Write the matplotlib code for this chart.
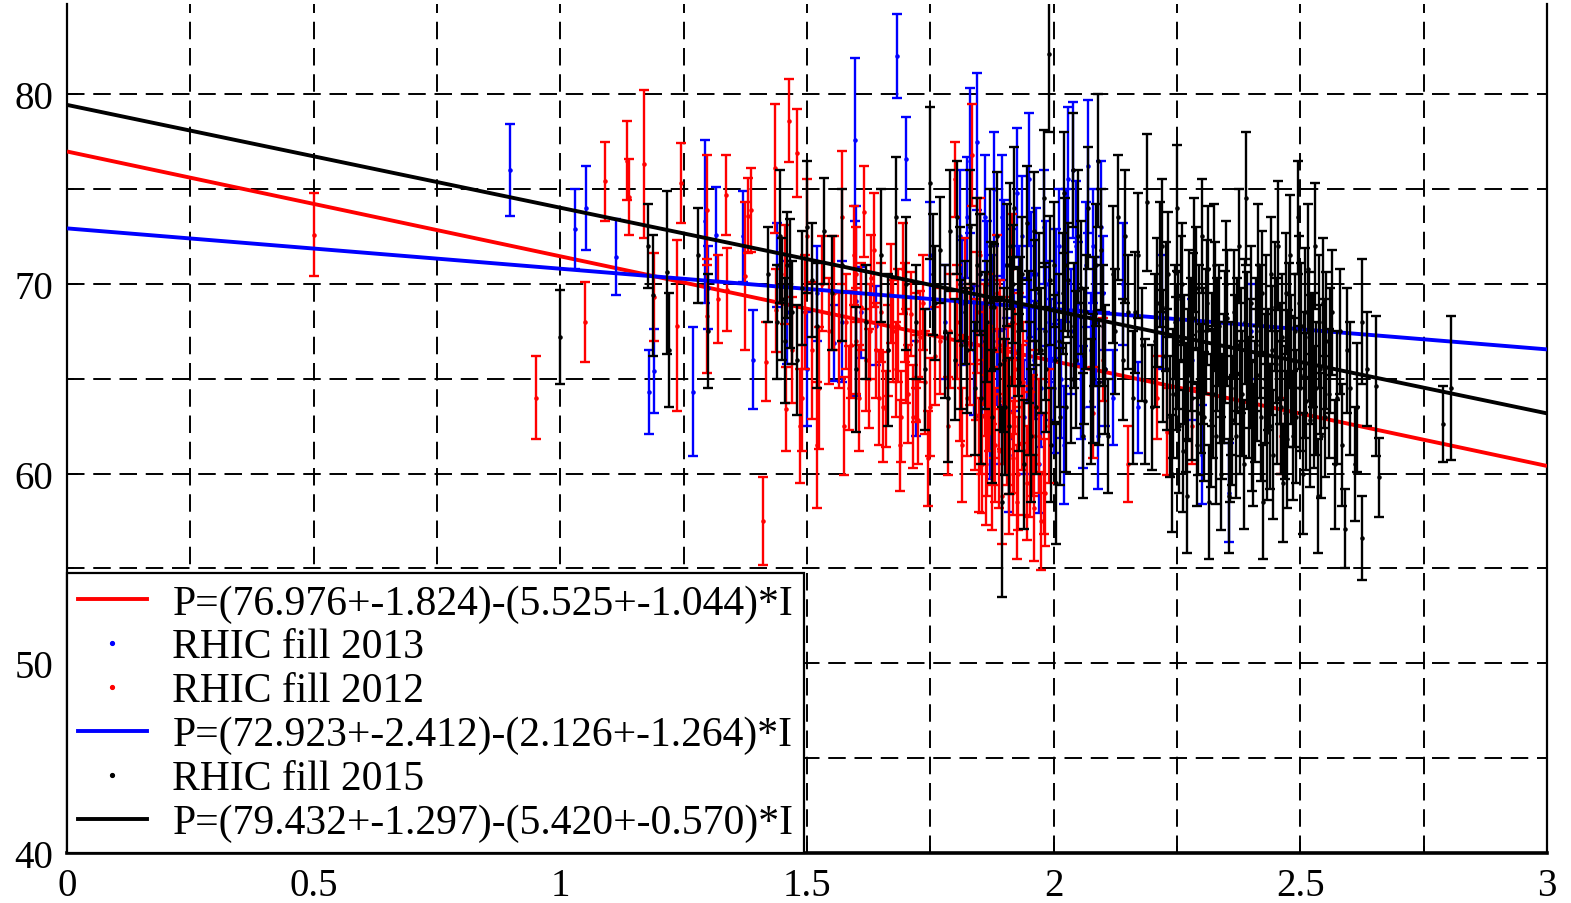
import matplotlib
matplotlib.use("Agg")
import matplotlib.pyplot as plt
from matplotlib.lines import Line2D
from matplotlib.ticker import MultipleLocator

plt.rcParams['font.family'] = ['Liberation Serif', 'DejaVu Serif']

# ---- RHIC fill 2012 (red): beam intensity I, polarization P, uncertainty dP
I_2012 = [0.50, 0.95, 1.05, 1.09, 1.135, 1.14, 1.17, 1.19, 1.236, 1.245, 1.297, 1.298,
          1.32, 1.335, 1.337, 1.374, 1.38, 1.386, 1.411, 1.416, 1.435, 1.437, 1.457, 1.463,
          1.48, 1.485, 1.49, 1.50, 1.51, 1.52, 1.53, 1.555, 1.565, 1.57, 1.58, 1.585, 1.59,
          1.60, 1.61, 1.615, 1.62, 1.625, 1.63, 1.635, 1.645, 1.65, 1.66, 1.665, 1.67, 1.68,
          1.685, 1.69, 1.695, 1.70, 1.705, 1.71, 1.72, 1.725, 1.73, 1.74, 1.745, 1.76, 1.79,
          1.80, 1.81, 1.815, 1.82, 1.83, 1.835, 1.84, 1.845, 1.85, 1.855, 1.86, 1.865, 1.87,
          1.875, 1.88, 1.885, 1.89, 1.895, 1.90, 1.905, 1.91, 1.915, 1.92, 1.925, 1.93, 1.94,
          1.95, 1.96, 1.97, 1.98, 2.08, 2.10, 2.15, 2.21, 2.23, 2.28, 2.46,
          1.455, 1.47, 1.495, 1.525, 1.545, 1.575, 1.595, 1.605, 1.628, 1.655, 1.675, 1.688,
          1.698, 1.715, 1.735, 1.75, 1.77, 1.785, 1.805, 1.825, 1.848, 1.858, 1.868, 1.878,
          1.892, 1.908, 1.918, 1.935, 1.945, 1.958, 1.975, 1.99,
          1.842, 1.852, 1.862, 1.872, 1.882, 1.898, 1.912, 1.922, 1.928, 1.938, 1.952, 1.965,
          1.982, 1.72, 1.64, 1.60]
P_2012 = [72.6, 64.0, 68.0, 75.4, 76.5, 74.6, 76.3, 69.3, 67.8, 75.3, 73.9, 68.3,
          69.2, 74.7, 69.7, 70.4, 73.6, 73.9, 57.5, 65.9, 76.1, 68.6, 63.4, 78.6,
          76.9, 62.5, 64.0, 72.5, 66.5, 61.5, 70.0, 69.5, 67.0, 73.5, 68.0, 64.5, 66.8,
          70.5, 68.8, 73.8, 66.0, 65.0, 70.3, 71.8, 64.0, 68.5, 63.4, 66.5, 69.5, 65.5,
          67.8, 63.0, 70.8, 66.2, 64.2, 68.4, 65.0, 62.8, 67.2, 64.8, 60.8, 66.2, 67.5,
          75.5, 64.5, 61.5, 69.8, 66.8, 76.8, 63.0, 68.5, 71.5, 60.5, 65.5, 62.0, 67.5,
          59.8, 64.2, 69.5, 61.2, 58.8, 66.0, 63.0, 60.0, 70.8, 62.5, 58.5, 66.5, 61.2,
          64.0, 58.2, 62.0, 60.0, 63.2, 66.0, 60.5, 64.0, 62.2, 62.5, 62.0,
          70.5, 66.5, 68.5, 64.5, 67.5, 62.5, 71.5, 64.0, 67.5, 63.5, 67.5, 61.5,
          68.5, 63.0, 69.0, 63.5, 67.0, 62.5, 68.0, 64.0, 61.0, 66.8, 64.5, 62.5,
          66.8, 64.5, 60.8, 63.5, 59.5, 62.0, 57.5, 62.5,
          66.0, 63.0, 60.5, 65.5, 61.5, 63.8, 62.0, 65.5, 60.0, 64.8, 61.0, 63.5,
          59.0, 67.0, 66.5, 67.0]
E_2012 = [2.2, 2.2, 2.1, 2.1, 2.1, 2.0, 3.9, 2.3, 4.5, 2.1, 2.9, 3.0,
          2.3, 2.1, 2.2, 3.9, 2.0, 2.2, 2.3, 2.1, 3.4, 2.2, 2.2, 2.2,
          2.3, 3.0, 2.8, 3.0, 3.6, 3.3, 2.5, 3.0, 2.5, 3.5, 2.5, 2.2, 2.8,
          2.5, 2.3, 2.4, 2.7, 2.6, 2.3, 3.0, 2.5, 2.6, 2.0, 2.4, 2.6, 2.5,
          3.0, 2.4, 2.4, 2.5, 2.6, 2.2, 2.3, 2.3, 2.4, 2.7, 2.5, 2.6, 3.0,
          2.0, 2.8, 3.0, 2.6, 3.2, 2.7, 2.8, 3.2, 3.0, 2.6, 3.5, 3.2, 3.0,
          2.8, 3.4, 3.1, 3.0, 2.5, 3.3, 3.6, 3.2, 2.9, 3.5, 3.0, 3.0, 3.4,
          3.0, 2.8, 3.0, 3.2, 2.4, 2.2, 2.0, 2.2, 2.3, 2.0, 2.0,
          2.6, 2.8, 3.0, 3.2, 2.8, 2.6, 2.6, 2.8, 2.5, 2.9, 2.7, 2.4,
          2.6, 2.7, 2.5, 2.6, 2.8, 2.6, 3.0, 3.1, 3.0, 3.2, 3.3, 3.1,
          3.4, 3.2, 3.0, 3.3, 3.0, 3.2, 2.6, 3.0,
          3.2, 3.0, 3.2, 3.4, 3.0, 3.3, 3.1, 3.4, 3.0, 3.2, 3.3, 3.0,
          2.8, 2.5, 2.5, 2.8]

# ---- RHIC fill 2013 (blue)
I_2013 = [0.897, 1.03, 1.052, 1.112, 1.18, 1.19, 1.269, 1.293, 1.30, 1.315, 1.37, 1.39,
          1.44, 1.46, 1.50, 1.52, 1.555, 1.57, 1.597, 1.60, 1.61, 1.64, 1.682, 1.70, 1.72,
          1.75, 1.78, 1.81, 1.83, 1.845, 1.85, 1.855, 1.86, 1.87, 1.875, 1.88, 1.89, 1.90,
          1.91, 1.92, 1.925, 1.93, 1.94, 1.95, 1.955, 1.96, 1.97, 1.98, 1.99, 2.00, 2.01,
          2.02, 2.03, 2.04, 2.05, 2.06, 2.07, 2.075, 2.08, 2.09, 2.10, 2.12, 2.14, 2.17,
          2.22, 2.28, 2.30, 2.355, 2.40,
          1.815, 1.825, 1.838, 1.865, 1.885, 1.895, 1.905, 1.915, 1.935, 1.945, 1.965, 1.975,
          1.985, 1.995, 2.005, 2.015, 2.025, 2.035, 2.045, 2.055, 2.065, 2.085, 2.095, 2.105]
P_2013 = [76.0, 72.9, 74.0, 71.4, 64.3, 65.4, 64.3, 73.3, 69.8, 72.6, 72.5, 66.0,
          71.0, 68.5, 65.5, 69.5, 66.9, 68.0, 77.6, 69.1, 68.5, 67.8, 82.0, 76.6, 64.5,
          71.5, 68.0, 72.5, 76.5, 77.5, 70.5, 66.0, 73.5, 62.5, 68.5, 75.0, 64.0, 71.0,
          61.0, 66.5, 74.8, 69.0, 63.0, 75.5, 70.5, 66.0, 60.5, 73.0, 68.0, 64.5, 72.0,
          61.5, 75.5, 76.0, 69.0, 63.5, 76.2, 66.5, 72.0, 62.0, 69.5, 64.0, 70.0, 63.5,
          68.5, 66.0, 61.0, 59.0, 67.5,
          69.0, 73.5, 66.5, 70.0, 67.0, 73.5, 65.0, 69.5, 72.5, 67.0, 70.5, 64.5,
          70.0, 66.0, 69.5, 65.0, 71.5, 67.5, 72.0, 65.0, 71.0, 68.0, 73.0, 65.5]
E_2013 = [2.4, 2.1, 2.2, 2.0, 2.2, 2.2, 3.4, 4.3, 2.2, 2.5, 2.4, 2.6,
          2.2, 2.7, 3.0, 2.5, 2.0, 3.2, 4.3, 5.0, 2.4, 2.1, 2.2, 2.2, 2.5,
          2.8, 3.0, 3.5, 3.8, 3.6, 3.2, 3.0, 3.3, 2.8, 3.0, 3.0, 3.5, 3.4,
          3.0, 3.2, 3.4, 3.0, 3.0, 3.5, 3.3, 3.1, 2.6, 3.0, 3.2, 3.4, 3.0,
          3.1, 3.8, 3.6, 3.2, 3.2, 3.5, 3.0, 3.0, 2.8, 3.0, 2.5, 3.2, 2.4,
          3.0, 3.2, 2.6, 2.6, 2.5,
          3.3, 3.2, 3.4, 3.3, 3.4, 3.3, 3.2, 3.4, 3.2, 3.3, 3.5, 3.1,
          3.3, 3.2, 3.4, 3.1, 3.5, 3.3, 3.4, 3.2, 3.3, 3.4, 3.5, 3.0]

# ---- RHIC fill 2015 (black)
I_2015 = [1.00, 1.178, 1.188, 1.217, 1.22, 1.28, 1.30, 1.42, 1.44, 1.445, 1.45, 1.455,
          1.46, 1.465, 1.47, 1.48, 1.49, 1.50, 1.51, 1.52, 1.535, 1.55, 1.57, 1.60, 1.62,
          1.65, 1.665, 1.68, 1.70, 1.72, 1.74, 1.75, 1.76, 1.77, 1.78, 1.79, 1.80, 1.81,
          1.82, 1.83, 1.84, 1.85, 1.86, 1.87, 1.875, 1.88, 1.895, 1.90, 1.905, 1.91, 1.915,
          1.92, 1.93, 1.935, 1.94, 1.95, 1.96, 1.965, 1.97, 1.98, 1.985, 1.99, 1.995, 2.00,
          2.005, 2.01, 2.02, 2.025, 2.03, 2.04, 2.045, 2.05, 2.06, 2.065, 2.07, 2.08, 2.085,
          2.09, 2.10, 2.11, 2.12, 2.13, 2.14, 2.15, 2.16, 2.17, 2.18, 2.19, 2.20, 2.21,
          2.22, 2.23, 2.24, 2.245, 2.25, 2.255, 2.26, 2.265, 2.27, 2.275, 2.28, 2.285, 2.29,
          2.295, 2.30, 2.305, 2.31, 2.315, 2.32, 2.325, 2.33, 2.335, 2.34, 2.345, 2.35,
          2.355, 2.36, 2.365, 2.37, 2.375, 2.38, 2.385, 2.39, 2.395, 2.40, 2.405, 2.41,
          2.415, 2.42, 2.425, 2.43, 2.435, 2.44, 2.445, 2.45, 2.455, 2.46, 2.465, 2.47,
          2.475, 2.48, 2.485, 2.49, 2.495, 2.50, 2.505, 2.51, 2.515, 2.52, 2.525, 2.53,
          2.535, 2.54, 2.545, 2.55, 2.56, 2.57, 2.58, 2.59, 2.60, 2.61, 2.624, 2.624, 2.654,
          2.66, 2.79, 2.806,
          1.755, 1.785, 1.805, 1.825, 1.845, 1.865, 1.885, 1.902, 1.918, 1.928, 1.945, 1.955,
          1.975, 1.992, 2.012, 2.018, 2.035, 2.055, 2.075, 2.095, 2.105, 2.125, 2.145, 2.165,
          2.185, 2.205, 2.215, 2.228, 2.235, 2.248, 2.258, 2.268, 2.278, 2.288, 2.298, 2.308,
          2.318, 2.328, 2.338, 2.348, 2.358, 2.368, 2.378, 2.388, 2.398, 2.408, 2.418, 2.428,
          2.438, 2.448, 2.458, 2.468, 2.478, 2.488, 2.498, 2.508, 2.518, 2.528, 2.538, 2.548,
          2.565, 2.575, 2.585, 2.595, 2.615, 2.635,
          2.222, 2.232, 2.242, 2.252, 2.262, 2.272, 2.282, 2.292, 2.302, 2.312, 2.322, 2.332,
          2.342, 2.352, 2.362, 2.372, 2.382, 2.392, 2.402, 2.412, 2.422, 2.432, 2.442, 2.452,
          2.462, 2.472, 2.482, 2.492, 2.502, 2.512, 2.522, 2.532, 2.542, 2.552, 2.558,
          1.812, 1.832, 1.852, 1.872, 1.892, 1.912, 1.932, 1.952, 1.962, 1.982, 2.002, 2.022,
          2.042, 2.062, 2.082, 2.092]
P_2015 = [67.2, 72.0, 69.4, 70.6, 66.5, 71.5, 67.5, 70.5, 68.0, 72.5, 69.2, 67.0,
          71.0, 70.0, 68.5, 66.0, 69.8, 73.0, 70.2, 67.8, 72.8, 69.5, 71.0, 65.5, 68.0,
          71.5, 66.5, 73.5, 70.0, 68.0, 65.5, 75.3, 69.0, 71.8, 67.5, 72.8, 66.0, 70.0,
          68.5, 73.0, 64.5, 70.5, 67.0, 72.0, 63.0, 68.8, 58.5, 66.0, 71.0, 62.5, 68.0,
          74.0, 64.8, 70.5, 60.5, 67.2, 72.8, 63.5, 69.5, 74.5, 65.5, 82.1, 61.5, 71.0,
          59.5, 67.0, 74.8, 63.5, 70.2, 76.0, 66.0, 72.5, 62.0, 68.5, 74.0, 65.0, 71.0,
          76.5, 67.8, 62.0, 70.5, 73.5, 66.0, 68.5, 64.0, 71.5, 66.8, 74.3, 63.5, 69.0,
          72.0, 65.5, 60.0, 68.0, 74.0, 62.5, 70.0, 66.0, 58.8, 68.5, 64.0, 71.5, 61.5,
          67.5, 72.5, 63.0, 69.0, 58.5, 66.0, 71.0, 62.0, 67.8, 60.0, 65.0, 70.0,
          58.8, 64.5, 68.5, 62.0, 72.0, 66.5, 60.5, 74.5, 64.0, 69.0, 61.5, 66.8,
          71.0, 63.0, 58.5, 68.0, 65.5, 70.5, 61.0, 67.0, 72.0, 63.5, 59.5, 69.5,
          65.0, 71.5, 62.0, 67.5, 73.5, 64.5, 60.0, 68.5, 70.8, 62.8, 66.5, 72.0,
          58.8, 65.5, 69.0, 63.0, 66.5, 60.5, 67.5, 57.1, 64.5, 60.5, 68.0, 56.6, 64.6,
          59.8, 62.6, 64.5,
          70.5, 64.0, 73.5, 66.5, 71.0, 68.0, 72.5, 63.5, 70.0, 67.5, 73.2, 62.0,
          66.5, 70.2, 63.0, 69.5, 65.0, 69.8, 63.8, 71.8, 65.5, 67.5, 72.5, 68.5,
          63.8, 67.0, 71.0, 68.8, 63.0, 65.8, 69.2, 63.5, 66.8, 69.8, 64.5, 67.5,
          62.8, 68.8, 64.8, 67.2, 61.8, 66.0, 63.5, 68.0, 65.8, 63.8, 67.5, 65.0,
          62.5, 68.8, 65.8, 63.2, 67.8, 64.8, 69.0, 65.2, 67.2, 63.5, 68.0, 65.8,
          68.5, 64.0, 61.5, 66.5, 63.5, 65.5,
          66.2, 70.5, 64.2, 67.0, 61.2, 65.2, 68.2, 63.2, 66.2, 70.8, 64.2, 66.8,
          63.0, 68.2, 62.8, 66.8, 64.2, 67.0, 62.5, 65.2, 69.5, 62.2, 66.5, 64.0,
          67.2, 61.8, 66.0, 63.0, 67.8, 63.8, 66.0, 64.5, 62.0, 67.0, 64.2,
          66.8, 69.8, 64.0, 68.8, 65.8, 72.0, 68.0, 64.5, 69.0, 67.5, 66.0, 71.0,
          67.8, 66.2, 68.0, 64.8]
E_2015 = [2.5, 2.2, 3.2, 4.3, 3.0, 2.5, 3.0, 2.5, 3.0, 3.5, 3.2, 3.3,
          2.8, 3.4, 2.7, 2.9, 3.0, 3.5, 3.0, 3.3, 2.8, 3.0, 4.0, 3.3, 3.0,
          3.5, 4.0, 3.2, 3.5, 3.0, 3.2, 4.0, 3.0, 2.8, 3.5, 3.2, 3.2, 3.0,
          2.7, 3.0, 3.5, 3.2, 3.6, 3.0, 3.5, 3.3, 5.0, 3.8, 3.2, 3.6, 3.4,
          3.2, 3.6, 3.0, 3.4, 3.5, 3.1, 3.5, 3.2, 3.6, 3.3, 4.1, 3.0, 3.3,
          3.2, 3.5, 3.2, 3.4, 3.0, 3.0, 3.6, 3.5, 3.3, 3.0, 3.2, 3.4, 3.2,
          3.5, 3.2, 3.0, 3.6, 3.3, 3.2, 3.0, 3.5, 3.3, 3.0, 3.6, 3.3, 3.4,
          3.5, 3.2, 3.1, 3.0, 3.3, 3.5, 3.2, 3.4, 3.0, 3.3, 3.3, 3.0, 3.2,
          3.5, 3.0, 3.4, 3.3, 3.0, 3.5, 3.2, 3.6, 3.2, 3.0, 3.4, 3.3,
          3.0, 3.5, 3.3, 3.3, 3.0, 3.3, 3.4, 3.5, 3.2, 3.0, 3.2, 3.5,
          3.2, 3.4, 3.0, 3.5, 3.2, 3.0, 3.4, 3.3, 3.4, 3.5, 3.1, 3.2,
          3.6, 3.2, 3.4, 3.0, 3.0, 3.3, 3.2, 3.4, 3.4, 3.5, 3.0, 3.3,
          3.0, 3.4, 3.4, 3.2, 3.3, 3.4, 3.3, 2.1, 3.5, 3.0, 3.3, 2.2, 3.7,
          2.1, 2.0, 3.8,
          3.2, 3.4, 3.0, 3.3, 3.5, 3.2, 3.4, 3.6, 3.1, 3.4, 3.0, 3.5,
          3.3, 3.4, 3.6, 3.2, 3.4, 3.5, 3.3, 3.2, 3.4, 3.3, 3.5, 3.2,
          3.3, 3.5, 3.3, 3.4, 3.2, 3.5, 3.3, 3.4, 3.5, 3.2, 3.4, 3.3,
          3.5, 3.4, 3.2, 3.5, 3.3, 3.4, 3.5, 3.3, 3.4, 3.2, 3.5, 3.4,
          3.3, 3.4, 3.2, 3.5, 3.3, 3.4, 3.5, 3.3, 3.4, 3.2, 3.5, 3.4,
          3.3, 3.5, 3.2, 3.3, 3.4, 3.0,
          3.5, 3.3, 3.4, 3.6, 3.2, 3.5, 3.4, 3.3, 3.6, 3.3, 3.4, 3.5,
          3.3, 3.6, 3.4, 3.5, 3.3, 3.6, 3.4, 3.5, 3.3, 3.6, 3.4, 3.5,
          3.3, 3.6, 3.4, 3.5, 3.3, 3.6, 3.4, 3.5, 3.3, 3.6, 3.4,
          3.4, 3.3, 3.5, 3.4, 3.5, 3.3, 3.4, 3.5, 3.3, 3.6, 3.4, 3.5,
          3.3, 3.6, 3.4, 3.3]

# ---- linear fits P = a - b*I
fit_2012 = (76.976, 5.525)
fit_2013 = (72.923, 2.126)
fit_2015 = (79.432, 5.420)
label_2012 = "P=(76.976+-1.824)-(5.525+-1.044)*I"
label_2013 = "P=(72.923+-2.412)-(2.126+-1.264)*I"
label_2015 = "P=(79.432+-1.297)-(5.420+-0.570)*I"
fit_range = [0.0, 3.0]

RED, BLUE, BLACK = "#ff0000", "#0000ff", "#000000"

fig = plt.figure(figsize=(15.71, 9.04), dpi=100)
ax = fig.add_axes([67 / 1571, 1 - 854 / 904, (1547 - 67) / 1571, (854 - 5) / 904])
ax.set_xlim(0, 3)
ax.set_ylim(40, 84.75)


def fit_line(fit, color, z):
    a, b = fit
    ax.plot(fit_range, [a - b * x for x in fit_range], color=color, lw=2.8,
            zorder=z, solid_capstyle="butt")


def points(I, P, E, color, z):
    ax.errorbar(I, P, yerr=E, fmt=".", color=color, ecolor=color, markersize=4.5,
                elinewidth=1.7, capsize=3.6, capthick=1.7, zorder=z)


fit_line(fit_2012, RED, 3)
points(I_2013, P_2013, E_2013, BLUE, 4)
points(I_2012, P_2012, E_2012, RED, 5)
fit_line(fit_2013, BLUE, 6)
points(I_2015, P_2015, E_2015, BLACK, 7)
fit_line(fit_2015, BLACK, 8)

# grid and axes
ax.xaxis.set_major_locator(MultipleLocator(0.5))
ax.xaxis.set_minor_locator(MultipleLocator(0.25))
ax.yaxis.set_major_locator(MultipleLocator(10))
ax.yaxis.set_minor_locator(MultipleLocator(5))
ax.xaxis.set_major_formatter(plt.FuncFormatter(lambda v, p: f"{v:g}"))
ax.yaxis.set_major_formatter(plt.FuncFormatter(lambda v, p: f"{v:g}"))
ax.grid(which="both", color="black", linestyle=(0, (9, 4.5)), linewidth=1.4)
ax.set_axisbelow(True)
ax.tick_params(which="both", direction="in", top=False, right=False,
               labelsize=28, width=1.3)
ax.tick_params(which="major", length=8, pad=10)
ax.tick_params(which="minor", length=5)
ax.spines["top"].set_visible(False)
for s in ("left", "right"):
    ax.spines[s].set_linewidth(1.6)
ax.spines["bottom"].set_linewidth(2.6)

handles = [
    Line2D([], [], color=RED, lw=2.8),
    Line2D([], [], color=BLUE, ls="none", marker=".", markersize=5.5),
    Line2D([], [], color=RED, ls="none", marker=".", markersize=5.5),
    Line2D([], [], color=BLUE, lw=2.8),
    Line2D([], [], color=BLACK, ls="none", marker=".", markersize=5.5),
    Line2D([], [], color=BLACK, lw=2.8),
]
labels = [label_2012, "RHIC fill 2013", "RHIC fill 2012", label_2013,
          "RHIC fill 2015", label_2015]
leg = ax.legend(handles, labels, loc="lower left", bbox_to_anchor=(0, 0),
                borderaxespad=0, fancybox=False, framealpha=1, edgecolor="black",
                prop={"size": 30}, handlelength=1.65, handletextpad=0.62,
                borderpad=0.26, labelspacing=0.13)
leg.get_frame().set_linewidth(1.6)
leg.set_zorder(20)

fig.savefig("out.png", dpi=100)
